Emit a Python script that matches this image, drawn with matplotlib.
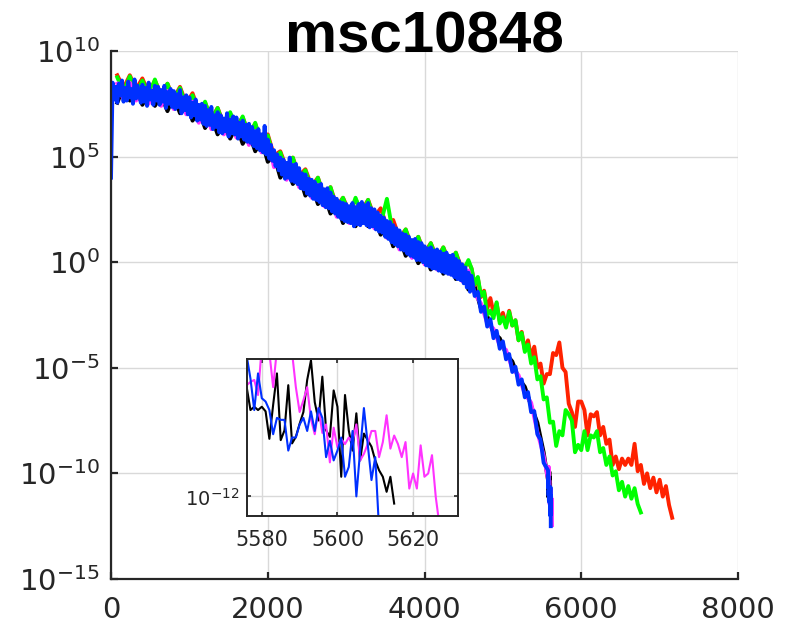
import numpy as np
import matplotlib
matplotlib.use("Agg")
import matplotlib.pyplot as plt
from matplotlib.ticker import NullLocator

# values are log10 of the plotted quantity
# black / magenta: iteration 80, 160, 240, ...
black_main = [7.55, 8.3, 7.65, 8.2, 7.45, 8.0, 7.4, 7.9, 7.15,
              7.85, 7.05, 7.6, 6.7, 7.2, 6.35, 6.9, 6.05, 6.6, 5.85,
              6.45, 5.6, 6.1, 5.25, 5.8, 4.75, 5.05, 4.0, 4.5, 3.7,
              4.1, 3.15, 3.6, 2.75, 3.2, 2.3, 2.7, 1.85, 2.4, 1.7,
              2.45, 1.7, 2.15, 1.3, 1.7, 0.75, 1.15, 0.3, 0.75, -0.05,
              0.45, -0.35, 0.2, -0.55, 0.0, -0.8, -0.35, -1.3, -1.15, -2.2,
              -2.55, -3.35, -3.6, -4.35, -4.7, -5.5, -5.9, -6.8, -7.6, -9.0]
magenta_main = [8.45, 7.7, 8.5, 7.65, 8.35, 7.5, 8.3, 7.4, 8.1,
                7.25, 7.95, 7.0, 7.6, 6.6, 7.25, 6.3, 6.95, 6.05, 6.75,
                5.9, 6.5, 5.55, 6.2, 5.2, 5.7, 4.5, 4.9, 3.9, 4.6,
                3.55, 4.05, 3.05, 3.65, 2.65, 3.2, 2.15, 2.75, 1.85, 2.6,
                1.9, 2.6, 1.6, 2.2, 1.15, 1.65, 0.6, 1.2, 0.2, 0.85,
                -0.1, 0.55, -0.35, 0.35, -0.55, 0.1, -0.9, -0.4, -1.5, -1.95,
                -2.9, -3.15, -3.95, -4.15, -5.05, -5.35, -6.25, -6.65, -8.05, -9.15]

# blue: iteration 0, 20, 40, ... up to 4580, then 4600, 4640, ...
blue_head = [4.0, 8.5, 7.7, 8.3, 7.55, 8.45, 7.9, 8.6, 7.6, 8.25,
             7.65, 8.55, 7.8, 8.2, 7.5, 8.65, 7.75, 8.35, 7.95, 7.55,
             8.4, 7.6, 8.25, 7.4, 8.5, 7.7, 8.1, 7.45, 8.35, 7.65,
             8.3, 7.45, 8.15, 7.6, 8.35, 7.3, 8.05, 7.5, 8.2, 7.35,
             8.1, 7.25, 7.95, 7.35, 8.15, 7.05, 7.8, 7.2, 7.9, 7.0,
             7.8, 6.85, 7.55, 6.95, 7.7, 6.7, 7.45, 6.75, 7.5, 6.55,
             7.4, 6.45, 7.2, 6.5, 7.35, 6.3, 6.95, 6.4, 7.1, 6.15,
             6.95, 6.1, 6.8, 6.2, 7.05, 5.95, 6.75, 6.1, 6.9, 6.05,
             6.85, 5.85, 6.6, 5.95, 6.7, 5.8, 6.5, 5.7, 6.55, 5.65,
             6.4, 5.5, 6.2, 5.4, 6.3, 5.3, 6.05, 5.2, 6.45, 5.1,
             5.8, 4.9, 5.55, 4.8, 5.3, 4.55, 5.1, 4.35, 4.95, 4.15,
             4.85, 3.95, 4.7, 4.0, 4.95, 3.85, 4.6, 3.8, 4.65, 3.7,
             4.45, 3.5, 4.2, 3.45, 4.15, 3.25, 3.95, 3.15, 3.9, 3.0,
             3.8, 2.95, 3.65, 2.85, 3.7, 2.7, 3.45, 2.6, 3.5, 2.55,
             3.3, 2.4, 3.1, 2.3, 3.0, 2.15, 2.85, 2.05, 2.8, 1.95,
             2.75, 1.9, 2.65, 1.85, 2.8, 1.7, 2.6, 1.8, 2.75, 1.75,
             2.85, 1.85, 2.7, 1.75, 2.8, 1.65, 2.55, 1.7, 2.5, 1.55,
             2.35, 1.45, 2.2, 1.4, 2.1, 1.2, 1.95, 1.1, 1.9, 0.95,
             1.75, 0.85, 1.6, 0.75, 1.5, 0.6, 1.35, 0.55, 1.3, 0.4,
             1.2, 0.3, 1.05, 0.25, 1.1, 0.1, 0.95, 0.1, 0.9, 0.0,
             0.75, -0.15, 0.65, -0.2, 0.7, -0.3, 0.55, -0.3, 0.6, -0.4,
             0.5, -0.45, 0.4, -0.5, 0.45, -0.55, 0.3, -0.6, 0.35, -0.7,
             0.15, -0.8, 0.05, -0.85, -0.1, -1.0, -0.25, -1.2, -0.5, -1.4]
blue_tail = [-0.65, -1.6, -1.4, -2.35, -2.1, -3.05, -2.7, -3.6, -3.25, -4.1,
             -3.75, -4.6, -4.35, -5.2, -4.95, -5.8, -5.55, -6.4, -6.15, -7.1,
             -7.05, -8.15, -8.4, -9.5, -9.75]

# green / red: iteration 80, 160, ... up to 4560, then 4600, 4640, ...
green_head = [8.75, 8.05, 8.8, 7.95, 8.6, 7.85, 8.65, 7.75, 8.45,
              7.6, 8.25, 7.35, 7.9, 6.95, 7.6, 6.65, 7.3, 6.4, 7.1,
              6.25, 6.9, 5.9, 6.6, 5.55, 6.0, 4.85, 5.2, 4.25, 4.95,
              3.9, 4.35, 3.4, 4.0, 3.0, 3.55, 2.5, 3.05, 2.2, 3.05,
              2.25, 2.95, 1.95, 1.8, 3.0, 1.3, 0.95, 1.55, 0.55, 1.2,
              0.25, 0.9, 0.0, 0.7, -0.2, 0.45, -0.55, 0.1]
green_tail = [-0.3, -1.05, -0.7, -1.6, -1.4, -2.5, -2.3, -2.65, -1.9, -2.9,
              -2.6, -3.1, -2.35, -3.0, -2.75, -3.7, -3.35, -4.25, -3.9, -4.8,
              -4.5, -5.55, -5.4, -6.5, -6.4, -7.6, -7.55, -8.7, -8.0, -8.2,
              -7.0, -7.2, -7.5, -9.0, -8.65, -8.9, -8.0, -8.9, -8.2, -8.3,
              -8.0, -9.0, -8.8, -9.6, -9.2, -10.1, -9.9, -10.8, -10.4, -11.1,
              -10.6, -11.2, -10.7, -11.45, -11.85]
red_head = [8.85, 8.25, 8.85, 8.2, 8.7, 8.0, 8.6, 7.95, 8.45,
            7.75, 8.3, 7.5, 8.0, 7.15, 7.55, 6.8, 7.3, 6.55, 7.05,
            6.45, 6.85, 6.1, 6.55, 5.7, 6.05, 5.05, 5.25, 4.45, 4.95,
            4.1, 4.4, 3.6, 4.0, 3.15, 3.55, 2.65, 3.05, 2.4, 2.95,
            2.45, 2.95, 2.15, 2.55, 1.7, 2.0, 1.15, 1.55, 0.75, 1.2,
            0.45, 0.9, 0.2, 0.7, 0.0, 0.45, -0.35, 0.0]
red_tail = [-0.3, -1.1, -0.75, -1.65, -1.35, -2.2, -1.7, -2.4, -1.95, -2.8,
            -2.4, -3.0, -2.3, -3.0, -2.75, -3.7, -3.3, -4.15, -3.7, -4.5,
            -4.0, -5.0, -4.8, -5.75, -5.3, -5.3, -4.3, -4.4, -3.8, -5.0,
            -5.2, -6.7, -7.1, -7.8, -6.6, -6.6, -7.0, -8.2, -7.2, -7.3,
            -7.1, -8.2, -7.8, -8.6, -8.4, -9.6, -9.2, -9.8, -9.3, -9.6,
            -9.3, -9.6, -8.6, -9.9, -9.6, -10.5, -10.0, -10.7, -10.2, -10.9,
            -10.3, -11.1, -10.6, -11.5, -12.1]

# last iterations, one per step, starting at 5576 (seen in the inset)
black_fine = [-10.33, -10.68, -10.63, -10.68, -10.63, -10.70, -11.12, -10.60, -10.12, -11.14,
              -10.99, -10.30, -11.19, -11.09, -10.89, -10.71, -10.22, -9.92, -10.56, -10.84,
              -10.17, -10.99, -11.09, -10.38, -10.63, -11.70, -10.45, -10.99, -11.30, -10.73,
              -11.45, -11.04, -11.14, -11.24, -11.45, -11.60, -11.70, -11.93, -11.70, -12.11]
blue_fine = [-9.85, -10.2, -10.68, -10.12, -10.50, -10.55, -10.68, -11.05, -10.8, -10.83,
             -10.83, -11.3, -11.1, -11.1, -10.9, -10.8, -11.0, -10.7, -11.0, -10.65,
             -10.8, -11.4, -11.15, -11.45, -11.3, -11.1, -11.7, -11.55, -11.0, -12.0,
             -11.3, -10.65, -11.2, -11.75, -11.4, -12.5]
magenta_fine = [-10.30, -10.25, -10.22, -10.45, -9.70, -9.75, -9.80, -10.33, -9.75, -9.80,
                -9.70, -9.75, -9.80, -10.33, -10.71, -10.53, -10.33, -10.82, -11.05, -10.65,
                -11.03, -10.90, -11.48, -10.95, -11.25, -11.12, -11.20, -11.10, -11.17, -10.90,
                -11.45, -11.35, -11.20, -11.00, -11.00, -11.40, -11.17, -10.76, -11.27, -11.07,
                -11.20, -11.40, -11.17, -11.88, -11.65, -11.88, -11.22, -11.70, -11.65, -11.37,
                -12.01, -12.45]

xticks = [0, 2000, 4000, 6000, 8000]
yticks = [1e-15, 1e-10, 1e-5, 1e0, 1e5, 1e10]
ylabels = ['$10^{-15}$', '$10^{-10}$', '$10^{-5}$', '$10^{0}$', '$10^{5}$', '$10^{10}$']
inset_xticks = [5580, 5600, 5620]


def make_xy(chunks):
    xs, ys = [], []
    for start, step, vals in chunks:
        xs.append(start + step * np.arange(len(vals)))
        ys.append(10.0 ** np.asarray(vals))
    return np.concatenate(xs), np.concatenate(ys)


series = [
    (make_xy([(80, 80, black_main), (5576, 1, black_fine)]), 'k'),
    (make_xy([(80, 80, red_head), (4600, 40, red_tail)]), '#ff2200'),
    (make_xy([(80, 80, green_head), (4600, 40, green_tail)]), '#00ff00'),
    (make_xy([(80, 80, magenta_main), (5576, 1, magenta_fine)]), '#ff33ff'),
    (make_xy([(0, 20, blue_head), (4600, 40, blue_tail), (5576, 1, blue_fine)]), '#0030ff'),
]

axis_col = '#262626'
grid_col = '#d9d9d9'

fig = plt.figure(figsize=(8.08, 6.26), dpi=100)

# main axes
ax = fig.add_axes([0.1374, 0.0751, 0.776, 0.8435])
for (xs, ys), c in series:
    ax.plot(xs, ys, color=c, lw=2.8)
ax.set_yscale('log')
ax.set_xlim(0, 8000)
ax.set_ylim(1e-15, 1e10)
ax.set_xticks(xticks)
ax.set_xticklabels([str(t) for t in xticks])
ax.set_yticks(yticks)
ax.set_yticklabels(ylabels)
ax.yaxis.set_minor_locator(NullLocator())
ax.grid(True, color=grid_col, lw=1.0)
ax.set_axisbelow(True)
ax.spines['top'].set_visible(False)
ax.spines['right'].set_visible(False)
for s in ['left', 'bottom']:
    ax.spines[s].set_linewidth(1.6)
    ax.spines[s].set_color(axis_col)
ax.tick_params(direction='in', length=5, width=1.6, color=axis_col,
               labelcolor=axis_col, labelsize=21)
ax.tick_params(axis='y', pad=8)
ax.tick_params(axis='x', pad=12)
ax.set_title('msc10848', fontsize=42, fontweight='bold',
             family=['Liberation Sans', 'DejaVu Sans'], y=1.0, pad=-1)

# zoomed inset
axi = fig.add_axes([0.3053, 0.1757, 0.2621, 0.2508])
for (xs, ys), c in series:
    axi.plot(xs, ys, color=c, lw=1.5)
axi.set_yscale('log')
axi.set_xlim(5576, 5632)
axi.set_ylim(10 ** -12.3, 10 ** -9.9)
axi.set_xticks(inset_xticks)
axi.set_xticklabels([str(t) for t in inset_xticks])
axi.set_yticks([1e-12])
axi.set_yticklabels(['$10^{-12}$'])
axi.yaxis.set_minor_locator(NullLocator())
axi.grid(True, color=grid_col, lw=1.0)
axi.set_axisbelow(True)
for s in axi.spines.values():
    s.set_linewidth(1.4)
    s.set_color(axis_col)
axi.tick_params(direction='in', length=3, width=1.2, top=True, right=True,
                color=axis_col, labelcolor=axis_col)
axi.tick_params(axis='x', labelsize=15, pad=10)
axi.tick_params(axis='y', labelsize=14, pad=5)

fig.savefig('out.png', dpi=100)
